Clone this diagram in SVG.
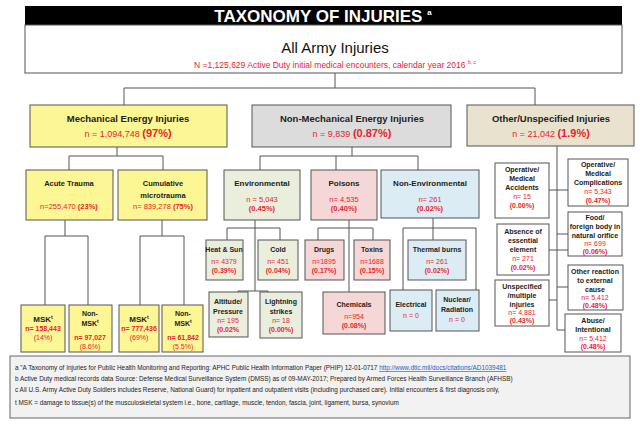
<svg xmlns="http://www.w3.org/2000/svg" width="640" height="426" viewBox="0 0 640 426">
<style>
text{font-family:"Liberation Sans",Arial,sans-serif;text-anchor:middle}
.b{stroke:#555;stroke-width:1}
.y{fill:#fdf694}.g{fill:#dcdcdc}.t{fill:#e8e2cf}.e{fill:#eaeedc}.p{fill:#f6d7d7}.c{fill:#dcecf4}.w{fill:#fff}
.h{font-weight:bold;fill:#222}
.r{fill:#e8242b}
.s{font-size:7px}.f{font-size:6.4px;fill:#222;text-anchor:start}
#conn line{stroke:#555;stroke-width:1}
</style>
<rect width="640" height="426" fill="#fff"/>
<g id="conn">
<line x1="335" y1="73" x2="335" y2="88"/><line x1="124" y1="88" x2="535" y2="88"/>
<line x1="124" y1="88" x2="124" y2="105"/><line x1="535" y1="88" x2="535" y2="105"/>
<line x1="117" y1="147" x2="117" y2="156"/><line x1="69" y1="156" x2="163" y2="156"/>
<line x1="69" y1="156" x2="69" y2="170"/><line x1="163" y1="156" x2="163" y2="170"/>
<line x1="65" y1="220" x2="65" y2="236"/><line x1="45" y1="236" x2="88" y2="236"/>
<line x1="45" y1="236" x2="45" y2="305"/><line x1="88" y1="236" x2="88" y2="305"/>
<line x1="162" y1="220" x2="162" y2="236"/><line x1="140" y1="236" x2="184" y2="236"/>
<line x1="140" y1="236" x2="140" y2="305"/><line x1="184" y1="236" x2="184" y2="305"/>
<line x1="352" y1="147" x2="352" y2="156"/><line x1="260" y1="156" x2="418" y2="156"/>
<line x1="260" y1="156" x2="260" y2="170"/><line x1="418" y1="156" x2="418" y2="170"/><line x1="336" y1="156" x2="336" y2="170"/>
<line x1="255" y1="220" x2="255" y2="291"/><line x1="227" y1="228" x2="280" y2="228"/>
<line x1="227" y1="228" x2="227" y2="240"/><line x1="280" y1="228" x2="280" y2="240"/>
<line x1="238" y1="291" x2="268" y2="291"/><line x1="238" y1="291" x2="238" y2="292"/><line x1="268" y1="291" x2="268" y2="292"/>
<line x1="349" y1="220" x2="349" y2="292"/><line x1="318" y1="228" x2="373" y2="228"/>
<line x1="318" y1="228" x2="318" y2="240"/><line x1="373" y1="228" x2="373" y2="240"/>
<line x1="433" y1="218" x2="433" y2="240"/><line x1="403" y1="228" x2="476" y2="228"/>
<line x1="403" y1="228" x2="403" y2="290"/><line x1="476" y1="228" x2="476" y2="290"/>
<line x1="557" y1="146" x2="557" y2="330"/>
<line x1="549" y1="190" x2="568" y2="190"/><line x1="549" y1="250" x2="568" y2="250"/>
<line x1="549" y1="300" x2="557" y2="300"/><line x1="557" y1="234" x2="568" y2="234"/>
<line x1="557" y1="287" x2="568" y2="287"/><line x1="557" y1="330" x2="565" y2="330"/>
</g>
<g id="title"><rect x="25" y="6" width="597" height="19" fill="#000"/>
<text x="323" y="22" font-size="17" font-weight="bold" fill="#fff">TAXONOMY OF INJURIES <tspan font-size="8" dy="-7">a</tspan></text></g>
<g id="all"><rect class="b w" x="25" y="25" width="597" height="48"/>
<text x="335" y="53" font-size="15" fill="#111">All Army Injuries</text>
<text x="335" y="68" font-size="8.5" fill="#e8242b">N =1,125,629 Active Duty initial medical encounters, calendar year 2016 <tspan font-size="5" dy="-4">b, c</tspan></text></g>
<g id="mech"><rect class="b y" x="30" y="105" width="197" height="42"/>
<text class="h" x="128" y="122" font-size="9.5">Mechanical Energy Injuries</text>
<text class="r" x="128" y="137" font-size="9">n = 1,094,748 <tspan font-weight="bold" font-size="11">(97%)</tspan></text></g>
<g id="nonmech"><rect class="b g" x="252" y="105" width="199" height="42"/>
<text class="h" x="352" y="122" font-size="9.5">Non-Mechanical Energy Injuries</text>
<text class="r" x="352" y="137" font-size="9">n = 9,839 <tspan font-weight="bold" font-size="11">(0.87%)</tspan></text></g>
<g id="other"><rect class="b t" x="467" y="105" width="167" height="41"/>
<text class="h" x="551" y="122" font-size="9.5">Other/Unspecified Injuries</text>
<text class="r" x="551" y="137" font-size="9">n = 21,042 <tspan font-weight="bold" font-size="11">(1.9%)</tspan></text></g>
<g id="acute"><rect class="b y" x="26" y="170" width="87" height="50"/>
<text class="h" x="69" y="186" font-size="7.5">Acute Trauma</text>
<text class="r" x="69" y="209" font-size="7.5">n=255,470 <tspan font-weight="bold">(23%)</tspan></text></g>
<g id="cumul"><rect class="b y" x="118" y="170" width="89" height="50"/>
<text class="h" x="163" y="186" font-size="7.5">Cumulative</text><text class="h" x="163" y="198" font-size="7.5">microtrauma</text>
<text class="r" x="163" y="209" font-size="7.5">n= 839,278 <tspan font-weight="bold">(75%)</tspan></text></g>
<g id="msk1"><rect class="b y" x="21" y="305" width="44" height="47"/>
<text class="h" x="43" y="322" font-size="8">MSK<tspan font-size="5" dy="-3">t</tspan></text>
<text class="r s" x="43" y="331" font-weight="bold">n= 158,443</text><text class="r s" x="43" y="340">(14%)</text></g>
<g id="nonmsk1"><rect class="b y" x="69" y="305" width="43" height="47"/>
<text class="h s" x="90" y="316">Non-</text><text class="h s" x="90" y="326">MSK<tspan font-size="5" dy="-3">t</tspan></text>
<text class="r s" x="90" y="340" font-weight="bold">n= 97,027</text><text class="r s" x="90" y="349">(8.6%)</text></g>
<g id="msk2"><rect class="b y" x="119" y="305" width="40" height="47"/>
<text class="h" x="139" y="322" font-size="8">MSK<tspan font-size="5" dy="-3">t</tspan></text>
<text class="r s" x="139" y="331" font-weight="bold">n= 777,436</text><text class="r s" x="139" y="340">(69%)</text></g>
<g id="nonmsk2"><rect class="b y" x="162" y="305" width="41" height="47"/>
<text class="h s" x="183" y="316">Non-</text><text class="h s" x="183" y="326">MSK<tspan font-size="5" dy="-3">t</tspan></text>
<text class="r s" x="183" y="340" font-weight="bold">n= 61,842</text><text class="r s" x="183" y="349">(5.5%)</text></g>
<g id="env"><rect class="b e" x="224" y="170" width="76" height="50"/>
<text class="h" x="262" y="186" font-size="8">Environmental</text>
<text class="r" x="262" y="202" font-size="7.5">n = 5,043</text><text class="r" x="262" y="211" font-size="7.5" font-weight="bold">(0.45%)</text></g>
<g id="poisons"><rect class="b p" x="311" y="170" width="66" height="50"/>
<text class="h" x="344" y="186" font-size="8">Poisons</text>
<text class="r" x="344" y="202" font-size="7.5">n= 4,535</text><text class="r" x="344" y="211" font-size="7.5" font-weight="bold">(0.40%)</text></g>
<g id="nonenv"><rect class="b c" x="381" y="170" width="98" height="48"/>
<text class="h" x="430" y="186" font-size="8">Non-Environmental</text>
<text class="r" x="430" y="202" font-size="7.5">n= 261</text><text class="r" x="430" y="211" font-size="7.5" font-weight="bold">(0.02%)</text></g>
<g id="heat"><rect class="b e" x="206" y="240" width="37" height="40"/>
<text class="h s" x="224" y="252" font-size="6.5">Heat &amp; Sun</text>
<text class="r s" x="224" y="264">n= 4379</text><text class="r s" x="224" y="273" font-weight="bold">(0.39%)</text></g>
<g id="cold"><rect class="b e" x="258" y="240" width="40" height="40"/>
<text class="h s" x="278" y="252">Cold</text>
<text class="r s" x="278" y="264">n= 451</text><text class="r s" x="278" y="273" font-weight="bold">(0.04%)</text></g>
<g id="alt"><rect class="b e" x="209" y="292" width="39" height="45"/>
<text class="h s" x="228" y="304">Altitude/</text><text class="h s" x="228" y="314">Pressure</text>
<text class="r s" x="228" y="323">n= 195</text><text class="r s" x="228" y="332" font-weight="bold">(0.02%</text></g>
<g id="light"><rect class="b e" x="260" y="292" width="42" height="46"/>
<text class="h s" x="281" y="304">Lightning</text><text class="h s" x="281" y="314">strikes</text>
<text class="r s" x="281" y="323">n= 18</text><text class="r s" x="281" y="332" font-weight="bold">(0.00%)</text></g>
<g id="drugs"><rect class="b p" x="305" y="240" width="39" height="40"/>
<text class="h s" x="324" y="252">Drugs</text>
<text class="r s" x="324" y="264">n=1895</text><text class="r s" x="324" y="273" font-weight="bold">(0.17%)</text></g>
<g id="toxins"><rect class="b p" x="354" y="240" width="36" height="40"/>
<text class="h s" x="372" y="252">Toxins</text>
<text class="r s" x="372" y="264">n=1688</text><text class="r s" x="372" y="273" font-weight="bold">(0.15%)</text></g>
<g id="chem"><rect class="b p" x="323" y="292" width="62" height="42"/>
<text class="h s" x="354" y="307">Chemicals</text>
<text class="r s" x="354" y="319">n=954</text><text class="r s" x="354" y="328" font-weight="bold">(0.08%)</text></g>
<g id="thermal"><rect class="b c" x="408" y="240" width="58" height="40"/>
<text class="h s" x="437" y="252">Thermal burns</text>
<text class="r s" x="437" y="264">n= 261</text><text class="r s" x="437" y="273" font-weight="bold">(0.02%)</text></g>
<g id="elec"><rect class="b c" x="390" y="290" width="42" height="41"/>
<text class="h s" x="411" y="307">Electrical</text><text class="r s" x="411" y="318">n = 0</text></g>
<g id="nuc"><rect class="b c" x="436" y="290" width="43" height="41"/>
<text class="h s" x="457" y="302">Nuclear/</text><text class="h s" x="457" y="312">Radiation</text><text class="r s" x="457" y="322">n = 0</text></g>
<g id="opacc"><rect class="b w" x="495" y="163" width="54" height="55"/>
<text class="h s" x="522" y="172">Operative/</text><text class="h s" x="522" y="181">Medical</text><text class="h s" x="522" y="190">Accidents</text>
<text class="r s" x="522" y="199">n= 15</text><text class="r s" x="522" y="208" font-weight="bold">(0.00%)</text></g>
<g id="absence"><rect class="b w" x="497" y="224" width="52" height="51"/>
<text class="h s" x="523" y="234">Absence of</text><text class="h s" x="523" y="243">essential</text><text class="h s" x="523" y="252">element</text>
<text class="r s" x="523" y="261">n= 271</text><text class="r s" x="523" y="270" font-weight="bold">(0.02%)</text></g>
<g id="unspec"><rect class="b w" x="495" y="280" width="54" height="46"/>
<text class="h s" x="522" y="289">Unspecified</text><text class="h s" x="522" y="298">/multiple</text><text class="h s" x="522" y="307">injuries</text>
<text class="r s" x="522" y="315">n= 4,881</text><text class="r s" x="522" y="323" font-weight="bold">(0.43%)</text></g>
<g id="opcomp"><rect class="b w" x="568" y="159" width="60" height="47"/>
<text class="h s" x="598" y="167">Operative/</text><text class="h s" x="598" y="176">Medical</text><text class="h s" x="598" y="185">Complications</text>
<text class="r s" x="598" y="194">n= 5,343</text><text class="r s" x="598" y="203" font-weight="bold">(0.47%)</text></g>
<g id="food"><rect class="b w" x="568" y="212" width="54" height="44"/>
<text class="h s" x="595" y="220">Food/</text><text class="h s" x="595" y="229">foreign body in</text><text class="h s" x="595" y="238">natural orifice</text>
<text class="r s" x="595" y="246">n= 699</text><text class="r s" x="595" y="254" font-weight="bold">(0.06%)</text></g>
<g id="otherreact"><rect class="b w" x="568" y="265" width="55" height="45"/>
<text class="h s" x="595" y="274">Other reaction</text><text class="h s" x="595" y="283">to external</text><text class="h s" x="595" y="292">cause</text>
<text class="r s" x="595" y="300">n= 5,412</text><text class="r s" x="595" y="308" font-weight="bold">(0.48%)</text></g>
<g id="abuse"><rect class="b w" x="565" y="314" width="56" height="38"/>
<text class="h s" x="593" y="323">Abuse/</text><text class="h s" x="593" y="332">Intentional</text>
<text class="r s" x="593" y="341">n= 5,412</text><text class="r s" x="593" y="349" font-weight="bold">(0.48%)</text></g>
<g id="notes"><rect x="10" y="356" width="620" height="62" fill="#f2f2f2" stroke="#666"/>
<text class="f" x="15" y="370">a   "A Taxonomy of Injuries for Public Health Monitoring and Reporting:   APHC Public Health Information Paper (PHIP) 12-01-0717 <tspan fill="#1a5fc8" text-decoration="underline">http://www.dtic.mil/docs/citations/AD1039481</tspan></text>
<text class="f" x="15" y="381">b   Active Duty medical records data Source: Defense Medical Surveillance System (DMSS) as of 09-MAY-2017;  Prepared by Armed Forces Health Surveillance Branch (AFHSB)</text>
<text class="f" x="15" y="392">c   All U.S. Army Active Duty Soldiers includes Reserve, National Guard) for inpatient and outpatient visits (including purchased care).  Initial encounters &amp; first diagnosis only,</text>
<text class="f" x="15" y="405">t   MSK = damage to tissue(s) of the musculoskeletal system i.e., bone, cartilage, muscle, tendon, fascia, joint, ligament, bursa, synovium</text></g>
</svg>
